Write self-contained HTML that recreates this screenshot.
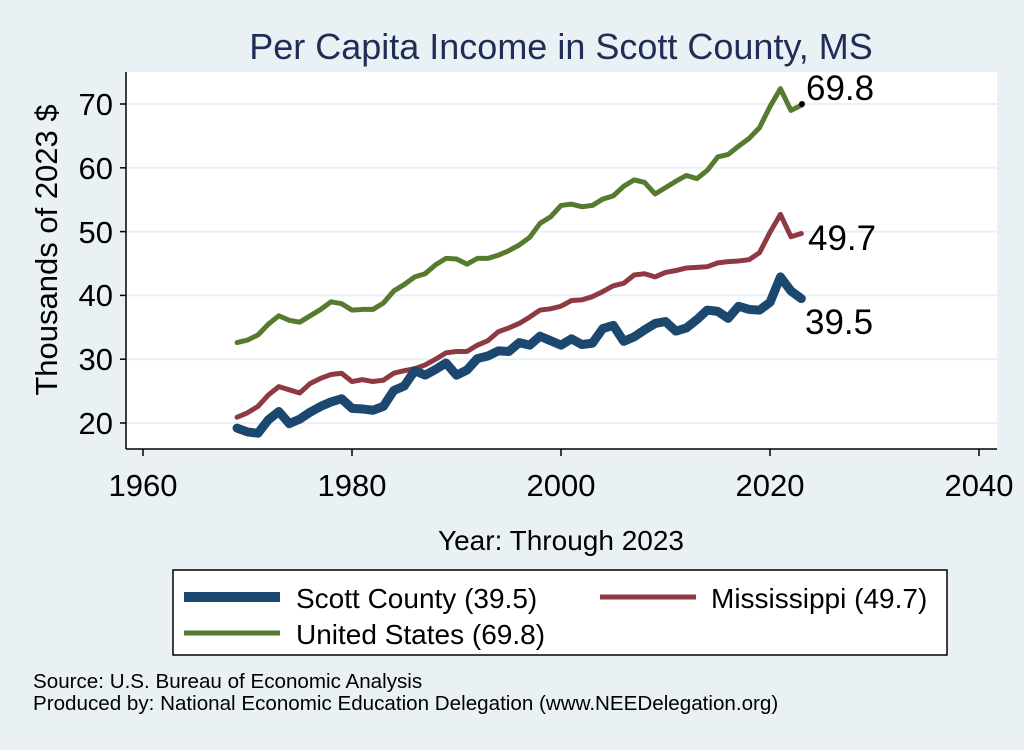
<!DOCTYPE html>
<html><head><style>
body{margin:0;width:1024px;height:745px;background:#e9f1f4;overflow:hidden;font-family:"Liberation Sans",sans-serif;}
</style></head><body>
<svg width="1024" height="745" xmlns="http://www.w3.org/2000/svg" font-family="Liberation Sans, sans-serif">
<rect width="1024" height="745" fill="#e9f1f4"/>
<rect x="126" y="72" width="871" height="377" fill="#fff"/>
<g stroke="#eaf0f3" stroke-width="2">
<line x1="126" x2="997" y1="423" y2="423"/><line x1="126" x2="997" y1="359.2" y2="359.2"/>
<line x1="126" x2="997" y1="295.4" y2="295.4"/><line x1="126" x2="997" y1="231.6" y2="231.6"/>
<line x1="126" x2="997" y1="167.8" y2="167.8"/><line x1="126" x2="997" y1="104" y2="104"/>
</g>
<g stroke="#000" stroke-width="1.5">
<line x1="126" y1="72" x2="126" y2="449"/><line x1="126" y1="449" x2="997" y2="449"/>
<line x1="120" x2="126" y1="423" y2="423"/><line x1="120" x2="126" y1="359.2" y2="359.2"/>
<line x1="120" x2="126" y1="295.4" y2="295.4"/><line x1="120" x2="126" y1="231.6" y2="231.6"/>
<line x1="120" x2="126" y1="167.8" y2="167.8"/><line x1="120" x2="126" y1="104" y2="104"/>
<line x1="143" x2="143" y1="449" y2="456"/><line x1="352" x2="352" y1="449" y2="456"/>
<line x1="561" x2="561" y1="449" y2="456"/><line x1="770" x2="770" y1="449" y2="456"/>
<line x1="979" x2="979" y1="449" y2="456"/>
</g>
<g font-size="31" text-anchor="end" fill="#000">
<text x="113" y="434">20</text><text x="113" y="370">30</text><text x="113" y="306">40</text>
<text x="113" y="243">50</text><text x="113" y="179">60</text><text x="113" y="115">70</text>
</g>
<g font-size="31" text-anchor="middle" fill="#000">
<text x="143" y="496">1960</text><text x="352" y="496">1980</text><text x="561" y="496">2000</text>
<text x="770" y="496">2020</text><text x="979" y="496">2040</text>
<text x="561" y="550" font-size="28">Year: Through 2023</text>
</g>
<text x="57" y="250" font-size="31" text-anchor="middle" transform="rotate(-90 57 250)">Thousands of 2023 $</text>
<text x="561" y="59" font-size="36" text-anchor="middle" fill="#1f2d57">Per Capita Income in Scott County, MS</text>
<g transform="translate(-20339,550.6) scale(10.45,-6.38)" fill="none" stroke-linejoin="round" stroke-linecap="round">
<polyline vector-effect="non-scaling-stroke" stroke="#567a2e" stroke-width="5" points="1969,32.6 1970,33 1971,33.8 1972,35.5 1973,36.8 1974,36.1 1975,35.8 1976,36.8 1977,37.8 1978,39 1979,38.7 1980,37.7 1981,37.8 1982,37.8 1983,38.8 1984,40.7 1985,41.7 1986,42.9 1987,43.4 1988,44.8 1989,45.8 1990,45.7 1991,44.9 1992,45.8 1993,45.8 1994,46.3 1995,47 1996,47.9 1997,49.1 1998,51.3 1999,52.3 2000,54.1 2001,54.3 2002,53.9 2003,54.1 2004,55.1 2005,55.6 2006,57.1 2007,58.1 2008,57.7 2009,55.9 2010,56.9 2011,57.9 2012,58.8 2013,58.3 2014,59.6 2015,61.7 2016,62.1 2017,63.4 2018,64.6 2019,66.3 2020,69.6 2021,72.4 2022,69 2023,69.8"/>
<polyline vector-effect="non-scaling-stroke" stroke="#8f3a42" stroke-width="5" points="1969,20.9 1970,21.6 1971,22.6 1972,24.4 1973,25.7 1974,25.2 1975,24.7 1976,26.2 1977,27 1978,27.6 1979,27.8 1980,26.5 1981,26.8 1982,26.5 1983,26.7 1984,27.8 1985,28.2 1986,28.5 1987,29.1 1988,30 1989,31 1990,31.2 1991,31.2 1992,32.2 1993,32.9 1994,34.3 1995,34.9 1996,35.6 1997,36.6 1998,37.7 1999,37.9 2000,38.3 2001,39.2 2002,39.3 2003,39.8 2004,40.6 2005,41.5 2006,41.9 2007,43.2 2008,43.4 2009,42.9 2010,43.6 2011,43.9 2012,44.3 2013,44.4 2014,44.5 2015,45.1 2016,45.3 2017,45.4 2018,45.6 2019,46.7 2020,49.9 2021,52.7 2022,49.2 2023,49.7"/>
<polyline vector-effect="non-scaling-stroke" stroke="#1c4870" stroke-width="9" points="1969,19.2 1970,18.6 1971,18.4 1972,20.5 1973,21.8 1974,19.9 1975,20.6 1976,21.7 1977,22.6 1978,23.3 1979,23.8 1980,22.3 1981,22.2 1982,22 1983,22.6 1984,25.1 1985,25.8 1986,28.2 1987,27.5 1988,28.4 1989,29.4 1990,27.5 1991,28.3 1992,30.1 1993,30.5 1994,31.3 1995,31.2 1996,32.6 1997,32.2 1998,33.6 1999,32.9 2000,32.2 2001,33.2 2002,32.3 2003,32.5 2004,34.8 2005,35.3 2006,32.8 2007,33.5 2008,34.6 2009,35.6 2010,35.9 2011,34.4 2012,34.9 2013,36.2 2014,37.7 2015,37.5 2016,36.4 2017,38.3 2018,37.8 2019,37.7 2020,38.9 2021,42.9 2022,40.7 2023,39.5"/>
</g>
<circle cx="802" cy="104" r="3" fill="#000"/>
<g font-size="35" fill="#000">
<text x="806" y="100">69.8</text><text x="808" y="250">49.7</text><text x="805" y="334">39.5</text>
</g>
<rect x="173" y="570" width="774" height="85" fill="#fff" stroke="#000" stroke-width="1.5"/>
<line x1="184" y1="597" x2="280" y2="597" stroke="#1c4870" stroke-width="10"/>
<line x1="184" y1="633" x2="280" y2="633" stroke="#567a2e" stroke-width="5"/>
<line x1="600" y1="597" x2="696" y2="597" stroke="#8f3a42" stroke-width="5"/>
<g font-size="28" fill="#000">
<text x="296" y="608">Scott County (39.5)</text>
<text x="296" y="644">United States (69.8)</text>
<text x="711" y="608">Mississippi (49.7)</text>
</g>
<g font-size="20.6" fill="#000">
<text x="33" y="688">Source: U.S. Bureau of Economic Analysis</text>
<text x="33" y="710">Produced by: National Economic Education Delegation (www.NEEDelegation.org)</text>
</g>
</svg>
</body></html>
